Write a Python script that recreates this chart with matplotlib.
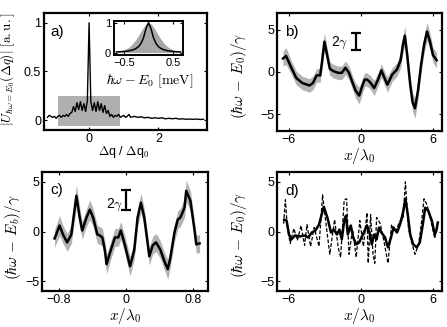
import matplotlib
matplotlib.use("Agg")
import matplotlib.pyplot as plt
import numpy as np

plt.rcParams['font.family'] = ['Liberation Sans', 'DejaVu Sans']
plt.rcParams['mathtext.fontset'] = 'cm'

# panel a: |U(dq)| spectrum
a_x = [-1.2, -1.15, -1.1, -1.05, -1.0, -0.95, -0.9, -0.85, -0.8, -0.75, -0.7, -0.65,
       -0.6, -0.55, -0.5, -0.45, -0.4, -0.35, -0.3, -0.25, -0.2, -0.15, -0.1, -0.05,
       0.0, 0.05, 0.1, 0.15, 0.2, 0.25, 0.3, 0.35, 0.4, 0.45, 0.5, 0.55, 0.6, 0.65,
       0.7, 0.75, 0.8, 0.85, 0.9, 0.95, 1.0, 1.05, 1.1, 1.15, 1.2, 1.3, 1.4, 1.5,
       1.6, 1.7, 1.8, 1.9, 2.0, 2.1, 2.2, 2.3, 2.4, 2.5, 2.6, 2.7, 2.8, 2.9, 3.0,
       3.1, 3.2, 3.3]
a_y = [0.03, 0.05, 0.04, 0.03, 0.04, 0.02, 0.04, 0.05, 0.03, 0.05, 0.04, 0.06,
       0.04, 0.07, 0.08, 0.14, 0.09, 0.18, 0.11, 0.19, 0.10, 0.17, 0.09, 0.20,
       1.0, 0.19, 0.10, 0.18, 0.09, 0.19, 0.10, 0.17, 0.08, 0.15, 0.07, 0.10, 0.04, 0.06,
       0.03, 0.05, 0.04, 0.06, 0.03, 0.04, 0.05, 0.03, 0.04, 0.06, 0.03, 0.04, 0.03, 0.035,
       0.025, 0.03, 0.02, 0.025, 0.02, 0.025, 0.015, 0.02, 0.015, 0.02, 0.012, 0.015, 0.01, 0.012, 0.01,
       0.012, 0.008, 0.01]
a_box = [-0.9, 0.9, -0.06, 0.25]   # shaded window

# inset: line shapes
ins_x = [-0.65, -0.6, -0.55, -0.5, -0.45, -0.4, -0.35, -0.3, -0.25, -0.2, -0.15, -0.1, -0.05,
         0.0, 0.05, 0.1, 0.15, 0.2, 0.25, 0.3, 0.35, 0.4, 0.45, 0.5, 0.55, 0.6, 0.65]
ins_line = [0.023, 0.027, 0.032, 0.038, 0.047, 0.058, 0.075, 0.10, 0.14, 0.20, 0.31, 0.50, 0.80,
            1.0, 0.80, 0.50, 0.31, 0.20, 0.14, 0.10, 0.075, 0.058, 0.047, 0.038, 0.032, 0.027, 0.023]
ins_fill = [0.03, 0.04, 0.06, 0.09, 0.13, 0.18, 0.25, 0.34, 0.45, 0.58, 0.72, 0.85, 0.95,
            1.0, 0.95, 0.85, 0.72, 0.58, 0.45, 0.34, 0.25, 0.18, 0.13, 0.09, 0.06, 0.04, 0.03]

# panel b
b_x = [-6.5, -6.25, -5.8, -5.4, -4.9, -4.3, -4.0, -3.7, -3.4, -3.25, -3.05, -2.85, -2.6, -2.3,
       -1.9, -1.6, -1.3, -1.0, -0.75, -0.45, -0.15, 0.05, 0.3, 0.5, 0.75, 1.1, 1.45, 1.7, 1.95,
       2.2, 2.6, 3.0, 3.3, 3.5, 3.65, 3.85, 4.1, 4.3, 4.5, 4.75, 5.0, 5.25, 5.5, 5.75, 6.0, 6.3]
b_y = [1.6, 1.9, 0.5, -0.7, -1.3, -1.6, -1.3, -0.4, -0.4, 1.2, 3.6, 2.2, 0.4, 0.1,
       -0.1, -0.1, 0.5, -0.1, -1.1, -2.2, -2.8, -1.9, -0.9, -0.9, -1.2, -1.9, -0.8, 0.2, -0.7,
       -1.5, -0.3, 0.3, 1.4, 3.3, 4.3, 2.0, -1.5, -3.6, -4.3, -2.2, 0.8, 3.2, 4.8, 3.6, 2.0, 1.4]
b_err = [0.9, 1.0, 0.8, 0.8, 0.8, 0.8, 0.8, 0.8, 0.8, 0.9, 1.1, 0.9, 0.8, 0.8,
         0.8, 0.8, 0.8, 0.8, 0.8, 0.9, 1.0, 0.9, 0.8, 0.8, 0.8, 0.9, 0.8, 0.8, 0.8,
         0.9, 0.8, 0.8, 0.9, 1.0, 1.1, 1.0, 1.0, 1.1, 1.2, 1.0, 1.0, 1.0, 1.1, 1.0, 0.9, 0.9]

# panel c
c_x = [-0.85, -0.79, -0.75, -0.70, -0.65, -0.59, -0.55, -0.52, -0.47, -0.43, -0.39, -0.34,
       -0.31, -0.28, -0.25, -0.23, -0.18, -0.13, -0.09, -0.06, -0.01, 0.05, 0.10, 0.14, 0.18,
       0.22, 0.28, 0.32, 0.36, 0.41, 0.46, 0.50, 0.53, 0.58, 0.62, 0.65, 0.70, 0.72, 0.77,
       0.82, 0.84, 0.88]
c_y = [-0.7, 0.6, -0.3, -1.1, -0.3, 3.6, 1.4, 0.1, 1.4, 2.2, 1.4, -0.3,
       -0.4, -0.6, -1.9, -3.3, -1.9, -0.6, -0.6, 0.1, -1.4, -3.5, -1.9, 1.4, 2.9,
       1.4, -2.5, -1.4, -1.1, -1.8, -3.0, -3.8, -2.7, -0.1, 1.2, 1.4, 2.4, 4.1, 3.1,
       0.1, -1.3, -1.2]
c_err = [0.9, 1.0, 0.9, 0.9, 0.9, 1.1, 1.0, 0.9, 0.9, 1.0, 0.9, 0.9,
         0.9, 0.9, 0.9, 1.0, 0.9, 0.9, 0.9, 0.9, 0.9, 1.0, 0.9, 0.9, 1.0,
         0.9, 0.9, 0.9, 0.9, 0.9, 0.9, 1.0, 0.9, 0.9, 0.9, 0.9, 1.0, 1.1, 1.0,
         0.9, 0.9, 0.9]

# panel d
d_x = [-6.4, -6.2, -6.0, -5.8, -5.5, -5.1, -4.7, -4.4, -4.1, -3.8, -3.5, -3.1, -2.8, -2.5,
       -2.25, -2.0, -1.8, -1.6, -1.4, -1.25, -1.1, -0.85, -0.65, -0.4, -0.15, 0.15, 0.5, 0.7,
       0.9, 1.1, 1.3, 1.5, 1.7, 2.0, 2.25, 2.5, 2.7, 3.0, 3.25, 3.5, 3.7, 3.9, 4.1, 4.35,
       4.65, 4.9, 5.15, 5.35, 5.6, 5.9, 6.15, 6.3, 6.4]
d_y = [1.2, 1.1, -0.3, -0.8, -0.4, -0.5, -0.4, -0.6, -0.1, 0.1, 0.7, 2.5, 1.4, -0.1,
       0.2, -0.3, 0.2, -0.8, 1.1, 1.6, -0.3, 0.6, -0.6, -1.3, -1.1, -0.3, 0.6, -0.1,
       -1.3, -0.3, -0.8, 0.4, -0.1, -0.6, -1.6, -0.6, 0.4, -0.1, 0.7, 1.9, 3.3, 1.7, -0.3, -1.3,
       -1.6, -1.1, 0.7, 2.4, 2.1, 1.1, -0.3, 0.2, 0.9]
dd_x = [-6.45, -6.3, -6.15, -5.9, -5.6, -5.3, -5.0, -4.7, -4.5, -4.2, -3.9, -3.5, -3.2, -2.9,
        -2.6, -2.2, -1.9, -1.7, -1.4, -1.2, -1.0, -0.7, -0.4, -0.1, 0.2, 0.5, 0.6, 0.8, 1.0,
        1.15, 1.3, 1.6, 1.9, 2.25, 2.55, 2.9, 3.2, 3.5, 3.7, 3.95, 4.2, 4.5, 4.8, 5.05, 5.25,
        5.5, 5.8, 6.15, 6.35]
dd_y = [0.8, 3.2, 0.5, -1.2, 0.3, -0.9, 0.6, -1.4, 0.7, -1.5, 0.4, -1.5, 3.7, 0.6,
        -2.3, 1.2, -1.6, -2.6, 3.2, 3.3, -2.3, 0.2, -2.6, 1.1, -1.5, 1.9, -3.2, 1.7, -2.3,
        -3.2, 1.4, 0.8, -0.9, -3.2, 0.7, 0.0, 1.0, 1.2, 5.0, 0.4, -1.0, -2.3, -1.3, 1.0, 3.3,
        2.7, 1.2, -0.7, 0.8]

W, H = 447, 327
fig = plt.figure(figsize=(W / 100, H / 100), dpi=100)

def px_axes(left, top, right, bottom):
    return fig.add_axes([left / W, 1 - bottom / H, (right - left) / W, (bottom - top) / H])

def style(ax, fs=9):
    for s in ax.spines.values():
        s.set_linewidth(1.6)
    ax.tick_params(direction='in', top=True, right=True, length=2.5, width=0.8,
                   labelsize=fs, pad=2)

gray = '#b3b3b3'
ylab = r'$(\hbar\omega\,-\,E_0)/\gamma$'
xlab = r'$x/\lambda_0$'

# ---- a)
ax = px_axes(44, 13, 207, 130)
style(ax)
ax.fill_between([a_box[0], a_box[1]], a_box[2], a_box[3], color='#b0b0b0', lw=0, zorder=1)
ax.plot(a_x, a_y, color='k', lw=1.0, zorder=2)
ax.set_xlim(-1.3, 3.4)
ax.set_ylim(-0.1, 1.1)
ax.set_xticks([0, 2])
ax.set_yticks([0, 0.5, 1])
ax.set_yticklabels(['0', '0.5', '1'])
ax.text(0.04, 0.84, 'a)', transform=ax.transAxes, fontsize=11, va='center')
ax.set_xlabel(r'$\Delta$q / $\Delta$q$_0$', fontsize=9)
ax.xaxis.set_label_coords(0.49, -0.12)
ax.set_ylabel(r'$|U_{\hbar\omega=E_0}(\Delta q)|\ [\mathrm{a.u.}]$', fontsize=9.5)
ax.yaxis.set_label_coords(-0.165, 0.52)

ins = px_axes(114, 21, 183, 55)
style(ins, fs=8)
for s in ins.spines.values():
    s.set_linewidth(1.4)
ins.fill_between(ins_x, 0, ins_fill, color='#a8a8a8', lw=0)
ins.plot(ins_x, ins_line, color='k', lw=1.1)
ins.set_xlim(-0.7, 0.7)
ins.set_ylim(-0.08, 1.05)
ins.set_xticks([-0.5, 0.5])
ins.set_xticklabels(['\u22120.5', '0.5'])
ins.set_yticks([0, 1])
ins.set_xlabel(r'$\hbar\omega - E_0\ [\mathrm{meV}]$', fontsize=10)
ins.xaxis.set_label_coords(0.52, -0.5)

# ---- b)
ax = px_axes(277, 13, 442, 131)
style(ax)
b_y_arr = np.array(b_y)
b_e = np.array(b_err)
ax.fill_between(b_x, b_y_arr - b_e, b_y_arr + b_e, color=gray, lw=0)
ax.plot(b_x, b_y, color='k', lw=1.8, solid_joinstyle='round')
ax.errorbar([-0.4], [3.6], yerr=[1.0], color='k', lw=1.6, capsize=3.5, capthick=1.6)
ax.text(-1.8, 3.5, r'2$\gamma$', fontsize=10, ha='center', va='center')
ax.set_xlim(-7, 6.75)
ax.set_ylim(-7, 7)
ax.set_xticks([-6, 0, 6])
ax.set_yticks([-5, 0, 5])
ax.text(0.05, 0.84, 'b)', transform=ax.transAxes, fontsize=11, va='center')
ax.set_xlabel(xlab, fontsize=11)
ax.xaxis.set_label_coords(0.5, -0.125)
ax.set_ylabel(ylab, fontsize=11)
ax.yaxis.set_label_coords(-0.17, 0.47)

# ---- c)
ax = px_axes(42, 172, 208, 291)
style(ax)
c_y_arr = np.array(c_y)
c_e = np.array(c_err)
ax.fill_between(c_x, c_y_arr - c_e, c_y_arr + c_e, color=gray, lw=0)
ax.plot(c_x, c_y, color='k', lw=1.8, solid_joinstyle='round')
ax.errorbar([0.0], [3.2], yerr=[1.0], color='k', lw=1.6, capsize=3.5, capthick=1.6)
ax.text(-0.13, 2.65, r'2$\gamma$', fontsize=10, ha='center', va='center')
ax.set_xlim(-1.0, 0.98)
ax.set_ylim(-6, 6)
ax.set_xticks([-0.8, 0, 0.8])
ax.set_xticklabels(['\u22120.8', '0', '0.8'])
ax.set_yticks([-5, 0, 5])
ax.text(0.05, 0.85, 'c)', transform=ax.transAxes, fontsize=11, va='center')
ax.set_xlabel(xlab, fontsize=11)
ax.xaxis.set_label_coords(0.5, -0.125)
ax.set_ylabel(r'$(\hbar\omega\,-\,E_b)/\gamma$', fontsize=11)
ax.yaxis.set_label_coords(-0.115, 0.45)

# ---- d)
ax = px_axes(277, 172, 442, 291)
style(ax)
ax.plot(dd_x, dd_y, color='k', lw=0.9, ls=(0, (3, 1.5)))
ax.plot(d_x, d_y, color='k', lw=1.8, solid_joinstyle='round')
ax.set_xlim(-7, 6.75)
ax.set_ylim(-6, 6)
ax.set_xticks([-6, 0, 6])
ax.set_yticks([-5, 0, 5])
ax.text(0.05, 0.84, 'd)', transform=ax.transAxes, fontsize=11, va='center')
ax.set_xlabel(xlab, fontsize=11)
ax.xaxis.set_label_coords(0.5, -0.125)
ax.set_ylabel(ylab, fontsize=11)
ax.yaxis.set_label_coords(-0.17, 0.47)

fig.savefig('out.png', dpi=100)
